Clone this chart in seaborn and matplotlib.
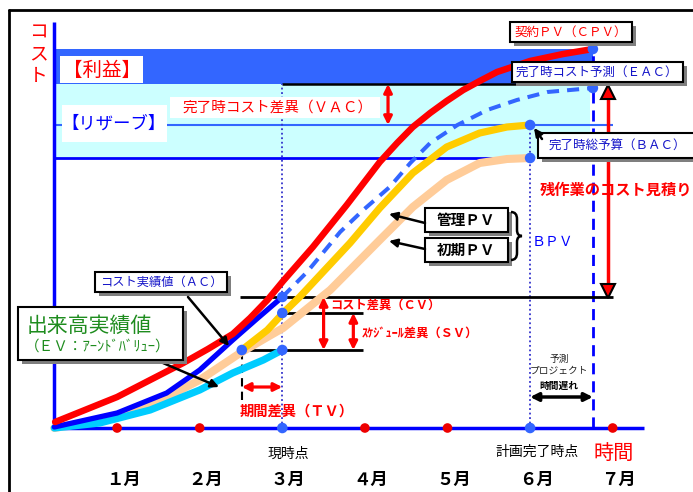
import matplotlib
matplotlib.use('Agg')
import matplotlib.pyplot as plt
from matplotlib.patches import Rectangle, PathPatch
from matplotlib.path import Path
from matplotlib.lines import Line2D
import pandas as pd
import seaborn as sns

# ---------------- data (months / cost units) ----------------
months = [1, 2, 3, 4, 5, 6, 7]
month_labels = ['１月', '２月', '３月', '４月', '５月', '６月', '７月']
month_dot_kind = ['past', 'past', 'now', 'other', 'other', 'plan', 'other']

axis_start = 0.24
now_t = 3.0
plan_end_t = 6.0
eac_end_t = 6.76
tv_start_t = 2.51

cpv_total = 94.75
eac_total = 85.0
vac_top = 86.0
bac_mgmt = 75.75
bac_init = 67.5
ac_now = 32.75
pv_now = 28.75
ev_now = 19.5

cpv_x = [0.25, 1.0, 1.80, 2.10, 2.40, 2.61, 2.82, 3.01, 3.37, 3.78, 4.18, 4.39, 4.58, 4.79,
         4.99, 5.19, 5.39, 5.60, 6.0, 6.40, 6.76]
cpv_y = [1.5, 7.75, 16.25, 19.75, 23.5, 27.5, 32.0, 36.75, 45.25, 55.75, 66.5, 71.25, 75.25, 78.75,
         81.75, 84.5, 86.75, 89.0, 91.75, 93.5, 94.75]

ac_x = [0.24, 1.0, 1.60, 2.0, 2.40, 2.69, 3.0]
ac_y = [0.25, 3.75, 8.75, 14.5, 22.0, 27.25, 32.75]

pv_init_x = [0.24, 1.0, 1.60, 2.0, 2.49, 2.82, 3.01, 3.58, 4.18, 4.58, 4.99, 5.39, 5.72, 6.0]
pv_init_y = [0.0, 2.75, 7.75, 12.0, 18.75, 22.75, 25.0, 34.5, 47.0, 55.25, 62.0, 66.25, 67.25, 67.5]

pv_mgmt_x = [2.51, 2.82, 3.01, 3.21, 3.82, 4.18, 4.58, 4.99, 5.39, 5.72, 6.0]
pv_mgmt_y = [19.5, 24.5, 28.75, 32.75, 46.25, 55.0, 63.75, 70.25, 73.75, 75.25, 75.75]

ev_x = [0.24, 0.79, 1.40, 2.0, 2.40, 2.77, 3.0]
ev_y = [0.0, 1.25, 4.5, 9.5, 13.75, 17.0, 19.5]

eac_x = [3.0, 3.30, 3.70, 3.98, 4.30, 4.55, 4.79, 5.12, 5.48, 5.84, 6.21, 6.76]
eac_y = [32.75, 39.0, 49.0, 54.5, 60.25, 66.25, 71.25, 75.75, 79.5, 82.0, 84.0, 85.0]

# ---------------- style ----------------
sns.set_theme(style='white')
plt.rcParams['font.family'] = ['Noto Sans CJK JP', 'DejaVu Sans']

RED = '#FF0000'
BLUE = '#0000FF'
MBLUE = '#3366FF'
NAVY = '#1414C8'

W, H = 693, 492
X0, SX, Y0, SY = 34.5, 82.6, 428.0, 4.0


def P(px, py):
    return ((px - X0) / SX, (Y0 - py) / SY)


fig = plt.figure(figsize=(6.93, 4.92), dpi=100)
ax = fig.add_axes([0, 0, 1, 1])
ax.set_xlim(P(0, 0)[0], P(W, 0)[0])
ax.set_ylim(P(0, H)[1], P(0, 0)[1])
ax.axis('off')

# outer frame
fig.add_artist(Line2D([9 / W, 9 / W], [1 - 10 / H, 0], transform=fig.transFigure, color='black', lw=2))
fig.add_artist(Line2D([9 / W, 1], [1 - 10 / H, 1 - 10 / H], transform=fig.transFigure, color='black', lw=2))

# bands
ax.add_patch(Rectangle((axis_start, vac_top), eac_end_t - axis_start, cpv_total - vac_top,
                       fc=MBLUE, ec='none', zorder=1))
ax.add_patch(Rectangle((axis_start, bac_init), eac_end_t - 0.04 - axis_start, vac_top - bac_init,
                       fc='#CCFFFF', ec='none', zorder=1))

# reference lines
ax.hlines(bac_mgmt, axis_start, 7.0, color=MBLUE, lw=1.5, zorder=2)
ax.hlines(bac_init, axis_start, plan_end_t, color=BLUE, lw=2, zorder=2)
ax.hlines(vac_top, now_t, 5.9, color='black', lw=1.8, zorder=2)
ax.vlines(now_t, 0, vac_top, color='#3333CC', lw=1.3, linestyle=(0, (1, 1.5)), zorder=2)
ax.vlines(plan_end_t, 0, bac_mgmt, color='#3333CC', lw=1.3, linestyle=(0, (1, 1.5)), zorder=2)
ax.vlines(eac_end_t, 0, cpv_total, color=BLUE, lw=2, linestyle=(0, (4, 2.5)), zorder=2)
ax.vlines(tv_start_t, 7.0, ev_now, color='black', lw=1.5, linestyle=(0, (4, 2.5)), zorder=2)

# variance lines
ax.hlines(ac_now, 2.49, 7.0, color='black', lw=2, zorder=3)
ax.hlines(pv_now, now_t, 3.98, color='black', lw=2, zorder=3)
ax.hlines(ev_now, tv_start_t, 3.98, color='black', lw=2, zorder=3)

# axes
ax.plot([axis_start, axis_start], [0, 101.5], color=BLUE, lw=2.5, zorder=4, solid_capstyle='butt')
ax.plot([axis_start, 7.38], [0, 0], color=BLUE, lw=2.5, zorder=4, solid_capstyle='butt')

# curves
curves = [
    (pv_init_x, pv_init_y, '#FFCC99', 5.8, 5),
    (pv_mgmt_x, pv_mgmt_y, '#FFCC00', 5.2, 6),
    (ev_x, ev_y, '#00CCFF', 5.2, 6),
    (ac_x, ac_y, BLUE, 3.8, 7),
    (cpv_x, cpv_y, RED, 4.7, 7),
]
for xs, ys, col, lw, z in curves:
    sns.lineplot(x=xs, y=ys, ax=ax, color=col, lw=lw, sort=False, estimator=None,
                 zorder=z, solid_capstyle='round', solid_joinstyle='round')
sns.lineplot(x=eac_x, y=eac_y, ax=ax, color=MBLUE, lw=2.9, sort=False, estimator=None, zorder=7)
ax.lines[-1].set_linestyle((0, (3, 2)))

# dots
dot_x = [now_t, now_t, now_t, tv_start_t, plan_end_t, plan_end_t, eac_end_t, eac_end_t]
dot_y = [ac_now, pv_now, ev_now, ev_now, bac_mgmt, bac_init, cpv_total, eac_total]
sns.scatterplot(x=dot_x, y=dot_y, ax=ax, s=58, color=MBLUE, edgecolor='none', zorder=9)
tick_df = pd.DataFrame({'m': months, 'kind': month_dot_kind, 'y': [0] * len(months)})
sns.scatterplot(data=tick_df[tick_df.kind.isin(['past', 'other'])], x='m', y='y', ax=ax,
                s=48, color='#EE0000', edgecolor='none', zorder=9)
sns.scatterplot(data=tick_df[tick_df.kind.isin(['now', 'plan'])], x='m', y='y', ax=ax,
                s=58, color=MBLUE, edgecolor='none', zorder=9)

# red arrows
red_arrow = dict(arrowstyle='<|-|>', color=RED, lw=2.3, mutation_scale=12, shrinkA=0, shrinkB=0)
ax.annotate('', xy=(4.28, vac_top), xytext=(4.28, bac_mgmt), arrowprops=red_arrow, zorder=8)
ax.annotate('', xy=(3.50, ac_now), xytext=(3.50, ev_now), arrowprops=red_arrow, zorder=8)
ax.annotate('', xy=(3.86, pv_now), xytext=(3.86, ev_now), arrowprops=red_arrow, zorder=8)
ax.annotate('', xy=(tv_start_t, 10.25), xytext=(now_t, 10.25), arrowprops=red_arrow, zorder=8)
# remaining work estimate
ax.plot([6.94, 6.94], [84.0, 34.3], color=RED, lw=2.5, zorder=8)
ax.plot([6.94], [84.0], marker='^', ms=10, mfc=RED, mec='black', mew=1.5, zorder=9)
ax.plot([6.94], [34.3], marker='v', ms=10, mfc=RED, mec='black', mew=1.5, zorder=9)
# delay arrow
ax.annotate('', xy=(plan_end_t, 7.75), xytext=(eac_end_t, 7.75),
            arrowprops=dict(arrowstyle='<|-|>', color='black', lw=2.5, mutation_scale=12,
                            shrinkA=0, shrinkB=0), zorder=8)

# black pointer arrows
blk = dict(arrowstyle='-|>', color='black', lw=1.8, mutation_scale=12, shrinkA=0, shrinkB=0)
for (fx, fy), (tx, ty) in [((425, 223), (389, 214)), ((425, 249), (389, 241)),
                           ((188, 297), (229, 346)), ((163, 363), (219, 387)),
                           ((542, 139), (534, 128))]:
    ax.annotate('', xy=P(tx, ty), xytext=P(fx, fy), arrowprops=blk, zorder=12)


def box(px0, py0, px1, py1, shadow=True, ec='black', lw=1.5, z=10):
    x0, y1 = P(px0, py0)
    x1, y0 = P(px1, py1)
    if shadow:
        ax.add_patch(Rectangle((x0 + 4 / SX, y0 - 4 / SY), x1 - x0, y1 - y0,
                               fc='#7F7F7F', ec='none', zorder=z))
    ax.add_patch(Rectangle((x0, y0), x1 - x0, y1 - y0, fc='white', ec=ec, lw=lw, zorder=z + 0.1))
    return (x0 + x1) / 2, (y0 + y1) / 2


def txt(px, py, s, size, color='black', ha='center', weight='normal', z=11, **kw):
    ax.text(*P(px, py), s, fontsize=size, color=color, ha=ha, va='center',
            fontweight=weight, zorder=z, **kw)


# plain white label boxes
box(60, 56, 143, 83, shadow=False, ec='none')
txt(102, 70, '【利益】', 14, RED)
box(62, 105, 167, 142, shadow=False, ec='none')
txt(114, 124, '【リザーブ】', 12.5, BLUE)
box(170, 97, 380, 118, shadow=False, ec='none')
txt(278, 108, '完了時コスト差異（ＶＡＣ）', 10.5, RED)

# framed label boxes
box(510, 22, 632, 42)
txt(571, 32, '契約ＰＶ（ＣＰＶ）', 9, RED)
box(512, 62, 683, 82)
txt(597, 72, '完了時コスト予測（ＥＡＣ）', 9, NAVY)
box(538, 133, 705, 158)
txt(617, 146, '完了時総予算（ＢＡＣ）', 9, NAVY)
box(425, 208, 508, 232)
txt(466, 220, '管理ＰＶ', 10.5, weight='bold')
box(425, 238, 508, 262)
txt(466, 250, '初期ＰＶ', 10.5, weight='bold')
box(95, 272, 227, 292)
txt(161, 282, 'コスト実績値（ＡＣ）', 8.8, NAVY)
box(18, 307, 183, 360, z=13)
txt(27, 326, '出来高実績値', 15, '#1E8C1E', ha='left', z=14)
txt(25, 347, '（ＥＶ：ｱｰﾝﾄﾞﾊﾞﾘｭｰ）', 10.5, '#1E8C1E', ha='left', z=14)

# brace
bv = [(511, 212), (517, 212), (517, 219), (517, 230), (517, 236), (522, 236),
      (517, 236), (517, 242), (517, 253), (517, 260), (511, 260)]
bc = [Path.MOVETO, Path.CURVE3, Path.CURVE3, Path.LINETO, Path.CURVE3, Path.CURVE3,
      Path.CURVE3, Path.CURVE3, Path.LINETO, Path.CURVE3, Path.CURVE3]
ax.add_patch(PathPatch(Path([P(*v) for v in bv], bc), fill=False, ec='black', lw=1.8, zorder=10))
txt(532, 242, 'ＢＰＶ', 10, BLUE, ha='left')

# other texts
ax.text(*P(38, 54), 'コ\nス\nト', fontsize=13.5, color=RED, ha='center', va='center', linespacing=1.05)
txt(540, 190, '残作業のコスト見積り', 11, RED, ha='left', weight='bold')
txt(330, 305, 'コスト差異（ＣＶ）', 8.8, RED, ha='left', weight='bold')
txt(362, 333, 'ｽｹｼﾞｭｰﾙ差異（ＳＶ）', 8.8, RED, ha='left', weight='bold')
txt(240, 412, '期間差異（ＴＶ）', 10.3, RED, ha='left', weight='bold')
txt(559, 359, '予測', 7, '#222222')
txt(559, 371, 'プロジェクト', 7, '#222222')
txt(559, 386, '時間遅れ', 7, 'black', weight='bold')
txt(288, 454, '現時点', 10)
txt(537, 452, '計画完了時点', 10)
txt(614, 453, '時間', 14.5, RED)
for m, lab in zip(months, month_labels):
    ax.text(m + 6 / SX, P(0, 480)[1], lab, fontsize=12.5, fontweight='bold',
            ha='center', va='center', color='black')

fig.savefig('out.png', dpi=100)
